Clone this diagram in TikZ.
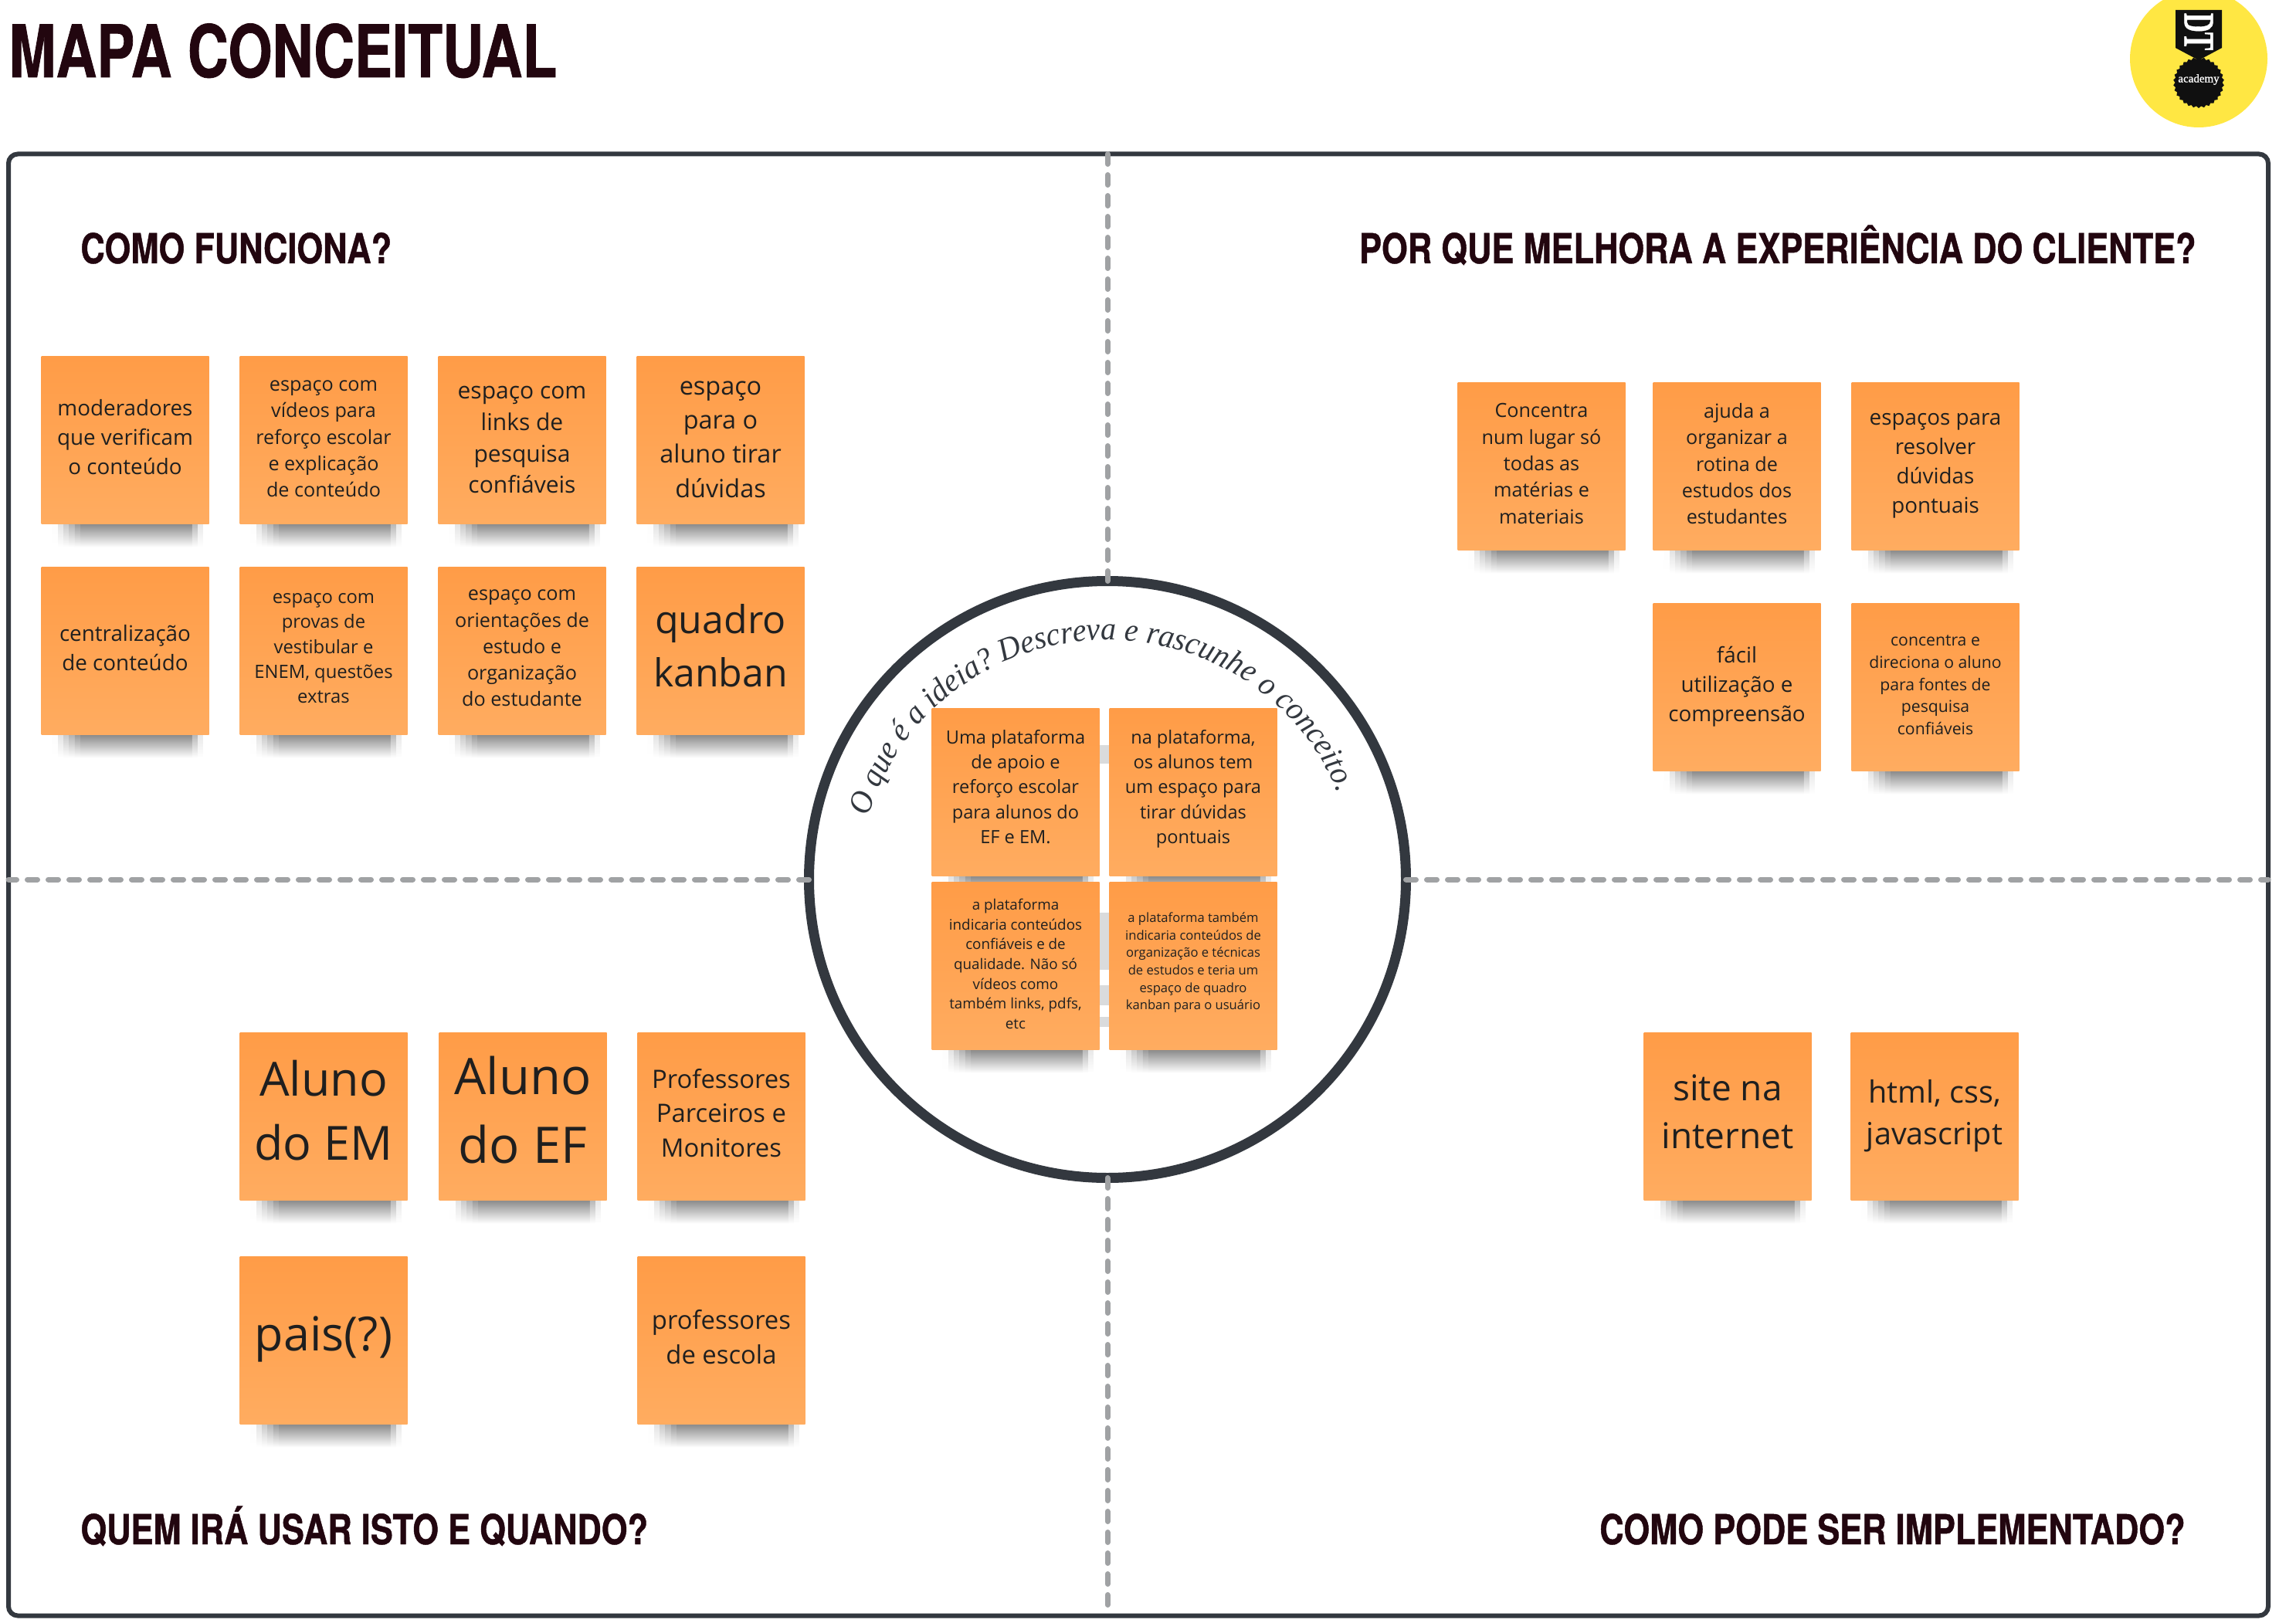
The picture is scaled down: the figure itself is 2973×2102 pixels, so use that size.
\documentclass[tikz,border=0pt]{standalone}
\usepackage{fontspec}
\setmainfont{Open Sans}
\newfontfamily\headfont[FakeStretch=0.81,FakeBold=0.8]{TeX Gyre Heros}
\newfontfamily\mainheadfont[FakeStretch=0.78,FakeBold=0.8]{TeX Gyre Heros}
\newfontfamily\curvefont[FakeStretch=0.95]{Liberation Serif}
\newfontfamily\logofont[FakeBold=1]{Liberation Serif}
\usetikzlibrary{shapes.geometric, decorations.text, calc, backgrounds}
\definecolor{anthracite}{RGB}{51,56,63}
\definecolor{dashgrey}{RGB}{160,162,164}
\definecolor{headdark}{RGB}{34,6,15}
\definecolor{notetop}{RGB}{255,156,71}
\definecolor{notebottom}{RGB}{255,172,96}
\definecolor{logoyellow}{RGB}{255,231,67}
\definecolor{logoblack}{RGB}{16,16,16}
\definecolor{gapgrey}{RGB}{218,219,220}
\pgfdeclarelayer{shadow}
\pgfsetlayers{background,shadow,main}

\begin{document}
\begin{tikzpicture}[
    x=0.5pt, y=-0.5pt,
    note/.style={rectangle,
        top color=notetop,
        bottom color=notebottom,
        minimum width=108.5pt,
        minimum height=108.5pt,
        inner sep=0pt,
        outer sep=0pt,
        align=center,
        text=black!88,
        text depth=\fpeval{0.28*#1}pt,
        font=\fontsize{#1}{\fpeval{1.362*#1}}\selectfont,
        },
    heading/.style={
        text=headdark,
        inner sep=0pt,
        font=\headfont\bfseries\fontsize{26.8}{30}\selectfont,
        },
    divider/.style={
        color=dashgrey,
        line width=3.5pt,
        line cap=round,
        dash pattern=on 6.5pt off 7pt,
        },
    ]
    \useasboundingbox (0,0) rectangle (2973,2102);

    \begin{scope}[on background layer]
        \node[rectangle, draw=anthracite, line width=3pt, rounded corners=6pt, minimum width=1463pt, minimum height=946.5pt, outer sep=0pt] (frame) at (1474,1146) {};
        \node[circle, draw=anthracite, fill=white, line width=6.5pt, minimum size=386.5pt, inner sep=0pt, outer sep=0pt] (idea) at (1434,1139) {};
        \coordinate (top_mid) at (frame.north -| idea.north);
        \coordinate (bot_mid) at (frame.south -| idea.south);
        \coordinate (mid_left) at (frame.west |- idea.west);
        \coordinate (mid_right) at (frame.east |- idea.east);
        \draw[divider] (idea.north) -- (top_mid);
        \draw[divider] (idea.south) -- (bot_mid);
        \draw[divider] (idea.west) -- (mid_left);
        \draw[divider] (idea.east) -- (mid_right);
        % restos da linha entre as notas
        \fill[gapgrey] (1422,965) rectangle (1436,989);
        \fill[gapgrey] (1422,1182) rectangle (1436,1256);
        \fill[gapgrey] (1422,1276) rectangle (1436,1302);
        \fill[gapgrey] (1422,1317) rectangle (1436,1330);
    \end{scope}

    \node[heading, anchor=base west, font=\mainheadfont\bfseries\fontsize{47}{50}\selectfont] (t_main) at (11,100) {MAPA CONCEITUAL};
    \node[heading, anchor=base west] (t_how) at (104,341) {COMO FUNCIONA?};
    \node[heading, anchor=base east] (t_why) at (2844,341) {POR QUE MELHORA A EXPERIÊNCIA DO CLIENTE?};
    \node[heading, anchor=base west] (t_who) at (104,2000) {QUEM IRÁ USAR ISTO E QUANDO?};
    \node[heading, anchor=base east] (t_impl) at (2830,2000) {COMO PODE SER IMPLEMENTADO?};

    \path[decorate, decoration={text along path, text align=center, text color=anthracite,
        text={|\curvefont\itshape\fontsize{21}{24}\selectfont|O que é a ideia? Descreva e rascunhe o conceito.}}]
        (1434,1139) ++(-167:320 and 310) arc[start angle=-167, delta angle=148, x radius=320, y radius=310];

    \node[note=13.9] (n_mod) at (162,570) {moderadores\\que verificam\\o conteúdo};
    \node[note=12.6, text depth=1.6pt] (n_vid) at (419,570) {espaço com\\vídeos para\\reforço escolar\\e explicação\\de conteúdo};
    \node[note=15, text depth=0.5pt] (n_links) at (676,570) {espaço com\\links de\\pesquisa\\confiáveis};
    \node[note=16.2, text depth=0.9pt] (n_duv) at (933,570) {espaço\\para o\\aluno tirar\\dúvidas};
    \node[note=13.9] (n_cen) at (162,843) {centralização\\de conteúdo};
    \node[note=11.9] (n_prov) at (419,843) {espaço com\\provas de\\vestibular e\\ENEM, questões\\extras};
    \node[note=12.6] (n_ori) at (676,843) {espaço com\\orientações de\\estudo e\\organização\\do estudante};
    \node[note=25] (n_kan) at (933,843) {quadro\\kanban};

    \node[note=12.6] (n_conc) at (1996,604) {Concentra\\num lugar só\\todas as\\matérias e\\materiais};
    \node[note=12.6] (n_aju) at (2249,604) {ajuda a\\organizar a\\rotina de\\estudos dos\\estudantes};
    \node[note=13.9] (n_esp) at (2506,604) {espaços para\\resolver\\dúvidas\\pontuais};
    \node[note=13.9] (n_fac) at (2249,890) {fácil\\utilização e\\compreensão};
    \node[note=10.6] (n_dir) at (2506,890) {concentra e\\direciona o aluno\\para fontes de\\pesquisa\\confiáveis};

    \node[note=11.8, text depth=7.1pt] (n_uma) at (1315,1026) {Uma plataforma\\de apoio e\\reforço escolar\\para alunos do\\EF e EM.};
    \node[note=11.8, text depth=7.1pt] (n_nap) at (1545,1026) {na plataforma,\\os alunos tem\\um espaço para\\tirar dúvidas\\pontuais};
    \node[note=9.4] (n_ind) at (1315,1251) {a plataforma\\indicaria conteúdos\\confiáveis e de\\qualidade. Não só\\vídeos como\\também links, pdfs,\\etc};
    \node[note=8.3, text depth=6.2pt] (n_tec) at (1545,1251) {a plataforma também\\indicaria conteúdos de\\organização e técnicas\\de estudos e teria um\\espaço de quadro\\kanban para o usuário};

    \node[note=30.5] (n_em) at (419,1446) {Aluno\\do EM};
    \node[note=32.6] (n_ef) at (677,1446) {Aluno\\do EF};
    \node[note=16.4] (n_prof) at (934,1446) {Professores\\Parceiros e\\Monitores};
    \node[note=30.5] (n_pais) at (419,1736) {pais(?)};
    \node[note=16.4] (n_esc) at (934,1736) {professores\\de escola};

    \node[note=23] (n_site) at (2237,1446) {site na\\internet};
    \node[note=19.8] (n_html) at (2505,1446) {html, css,\\javascript};

    \begin{pgfonlayer}{shadow}
        \foreach \n in {n_mod, n_vid, n_links, n_duv, n_cen, n_prov, n_ori, n_kan,
            n_conc, n_aju, n_esp, n_fac, n_dir, n_uma, n_nap, n_ind, n_tec,
            n_em, n_ef, n_prof, n_pais, n_esc, n_site, n_html}
            \foreach \k in {1,...,30} {
                \pgfmathsetmacro{\a}{(\k-1)/30}
                \pgfmathsetmacro{\b}{\k/30+0.002}
                \pgfmathtruncatemacro{\c}{46*min(1,max(0,(\a-0.06)/0.16))*min(1,max(0,(0.95-\a)/0.08))}
                \pgfmathtruncatemacro{\m}{\c/5}
                \shade[top color=black!\c, middle color=black!\m, bottom color=white]
                    ($(\n.south west)!\a!(\n.south east)$) rectangle ([yshift=-15pt]$(\n.south west)!\b!(\n.south east)$);
            }
    \end{pgfonlayer}

    % logo
    \node[circle, fill=logoyellow, minimum size=89pt, inner sep=0pt] (l_circle) at (2847,76) {};
    \fill[logoblack] (2817,13) -- (2877,13) -- (2877,62) -- (2847,78) -- (2817,62) -- cycle;
    \node[star, star points=30, star point ratio=1.08, fill=logoblack, minimum size=33pt, inner sep=0pt] (l_seal) at (2847,107) {};
    \node[text=white, inner sep=0pt, font=\logofont\fontsize{7.5}{8}\selectfont] (l_acad) at (2847,103) {academy};
    \node[text=white, inner sep=0pt, rotate=-90, xscale=0.62, transform shape, font=\logofont\bfseries\fontsize{28}{28}\selectfont] (l_dt) at (2847,41) {DT};
\end{tikzpicture}
\end{document}
